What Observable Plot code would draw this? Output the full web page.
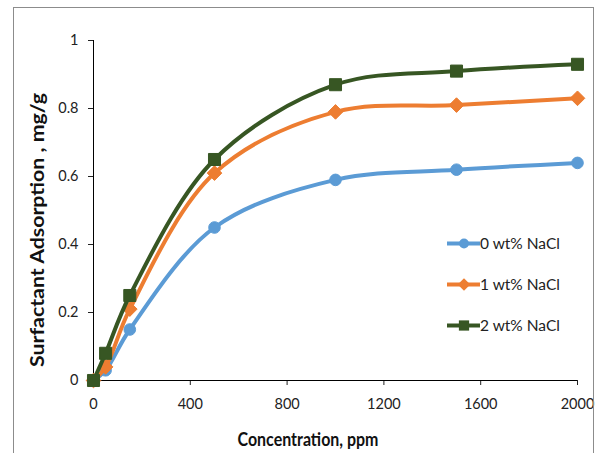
<!DOCTYPE html>
<html><head><meta charset="utf-8">
<script src="https://cdn.jsdelivr.net/npm/d3@7"></script>
<script src="https://cdn.jsdelivr.net/npm/@observablehq/plot@0.6"></script>
<style>
body{margin:0;background:#fff;font-family:Lato,"Open Sans",sans-serif;}
#wrap{position:relative;width:606px;height:453px;overflow:hidden;}
#frame{position:absolute;left:13px;top:7px;width:579px;height:460px;border:1.5px solid #8c8c8c;pointer-events:none;}
#legend{position:absolute;left:447px;top:233px;font-size:15.5px;color:#222;}
#legend .item{display:flex;align-items:center;height:20px;margin-bottom:21px;}
</style></head>
<body><div id="wrap"><div id="frame"></div><div id="legend"></div></div>
<script>
const concentration = [0, 50, 150, 500, 1000, 1500, 2000];
const seriesNames = ["0 wt% NaCl", "1 wt% NaCl", "2 wt% NaCl"];
const ads0 = [0, 0.03, 0.15, 0.45, 0.59, 0.62, 0.64];
const ads1 = [0, 0.04, 0.21, 0.61, 0.79, 0.81, 0.83];
const ads2 = [0, 0.08, 0.25, 0.65, 0.87, 0.91, 0.93];
const xTicks = [0, 400, 800, 1200, 1600, 2000];
const yTicks = [0, 0.2, 0.4, 0.6, 0.8, 1];
const colors = ["#5b9bd5", "#ed7d31", "#375623"];
const symbols = ["circle", "diamond2", "square"];
const radii = [5.8, 6.6, 6.8];

const all = [ads0, ads1, ads2];
const data = [];
all.forEach((arr, s) => arr.forEach((v, i) => data.push({series: seriesNames[s], x: concentration[i], y: v})));

const marks = [];
seriesNames.forEach((name, s) => {
  const d = data.filter(r => r.series === name);
  marks.push(Plot.line(d, {x: "x", y: "y", stroke: colors[s], strokeWidth: 4, curve: "catmull-rom"}));
  marks.push(Plot.dot(d, {x: "x", y: "y", fill: colors[s], symbol: () => symbols[s], r: radii[s], stroke: colors[s], strokeWidth: 1, strokeLinejoin: "round"}));
});

const chart = Plot.plot({
  width: 606, height: 453,
  marginLeft: 93, marginRight: 29, marginTop: 40, marginBottom: 73,
  style: {fontFamily: "Lato, 'Open Sans', sans-serif", fontSize: "14.5px", color: "#222", background: "transparent"},
  x: {domain: [0, 2000], label: null},
  y: {domain: [0, 1], label: null},
  marks: [
    Plot.axisX({ticks: xTicks, tickSize: 5, tickPadding: 13, fontSize: 14.5, tickFormat: d => String(d), label: null}),
    Plot.axisY({ticks: yTicks, tickSize: 5, tickPadding: 10, fontSize: 14.5, tickFormat: d => String(d), label: null}),
    Plot.ruleY([0], {stroke: "#000", strokeWidth: 1}),
    Plot.ruleX([0], {stroke: "#000", strokeWidth: 1}),
    ...marks
  ]
});
chart.style.position = "absolute";
chart.style.left = "0px";
chart.style.top = "0px";
chart.style.overflow = "visible";
const wrap = document.getElementById("wrap");
wrap.insertBefore(chart, wrap.firstChild);

// axis titles as text in the svg
const ns = "http://www.w3.org/2000/svg";
const xt = document.createElementNS(ns, "text");
xt.setAttribute("x", 308); xt.setAttribute("y", 446);
xt.setAttribute("text-anchor", "middle");
xt.setAttribute("font-weight", "bold"); xt.setAttribute("font-size", "18.5");
xt.setAttribute("textLength", "141"); xt.setAttribute("lengthAdjust", "spacingAndGlyphs");
xt.setAttribute("fill", "#111");
xt.textContent = "Concentration, ppm";
chart.appendChild(xt);
const yt = document.createElementNS(ns, "text");
yt.setAttribute("transform", "translate(44,230) rotate(-90)");
yt.setAttribute("text-anchor", "middle");
yt.setAttribute("font-weight", "bold"); yt.setAttribute("font-size", "18");
yt.setAttribute("textLength", "274"); yt.setAttribute("lengthAdjust", "spacingAndGlyphs");
yt.setAttribute("fill", "#111");
yt.textContent = "Surfactant Adsorption , mg/g";
chart.appendChild(yt);

// legend
const leg = document.getElementById("legend");
seriesNames.forEach((name, s) => {
  const item = document.createElement("div");
  item.className = "item";
  const sw = Plot.plot({
    width: 33, height: 20, margin: 0,
    x: {domain: [0, 2], axis: null}, y: {domain: [0, 1], axis: null},
    style: {background: "transparent"},
    marks: [
      Plot.ruleY([0.5], {x1: 0, x2: 2, stroke: colors[s], strokeWidth: 4}),
      Plot.dot([1], {x: d => d, y: 0.5, fill: colors[s], symbol: () => symbols[s], r: radii[s] * 0.85})
    ]
  });
  item.appendChild(sw);
  const t = document.createElement("span");
  t.textContent = name;
  item.appendChild(t);
  leg.appendChild(item);
});
</script></body></html>
